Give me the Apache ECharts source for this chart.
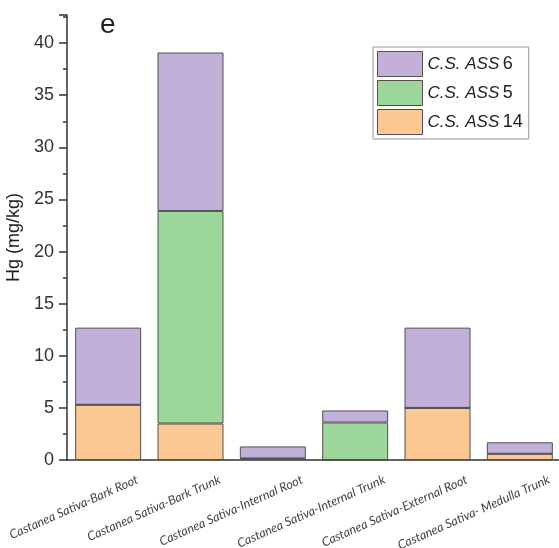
<!DOCTYPE html>
<html>
<head>
<meta charset="utf-8">
<script src="https://cdn.jsdelivr.net/npm/echarts@6/dist/echarts.min.js"></script>
<style>html,body{margin:0;padding:0;background:#fff;}#c{width:559px;height:548px;}</style>
</head>
<body>
<div id="c"></div>
<script>
var categories = ['Castanea Sativa-Bark Root','Castanea Sativa-Bark Trunk','Castanea Sativa-Internal Root','Castanea Sativa-Internal Trunk','Castanea Sativa-External Root','Castanea Sativa- Medulla Trunk'];
var ass14 = [5.3, 3.5, 0.1, 0, 5.0, 0.6];
var ass5 = [0, 20.4, 0.05, 3.6, 0, 0];
var ass6 = [7.4, 15.2, 1.15, 1.15, 7.7, 1.1];
var seriesNames = ['C.S. ASS 6', 'C.S. ASS 5', 'C.S. ASS 14'];

var chart = echarts.init(document.getElementById('c'));
var border = {borderColor: '#505050', borderWidth: 1};
function mk(name, data, color) {
  return {name: name, type: 'bar', stack: 'a', data: data, barWidth: 66,
    itemStyle: Object.assign({color: color}, border)};
}
chart.setOption({
  animation: false,
  grid: {left: 67, top: 15, width: 494, bottom: 88, containLabel: false, outerBoundsMode: 'none'},
  title: {text: 'e', left: 95, top: 6, textStyle: {fontSize: 28, fontWeight: 'normal', color: '#222', fontFamily: 'Liberation Sans'}},
  legend: {
    orient: 'vertical', left: 373, top: 47, data: seriesNames, icon: 'rect',
    itemWidth: 45, itemHeight: 25, itemGap: 3,
    borderColor: '#999', borderWidth: 1, padding: [4, 6, 4, 4],
    itemStyle: {borderColor: '#505050', borderWidth: 1},
    formatter: function (n) { var p = n.split(' '); return '{i|' + p[0] + ' ' + p[1] + '} {n|' + p[2] + '}'; },
    textStyle: {rich: {
      i: {fontStyle: 'italic', fontSize: 17, color: '#222', fontFamily: 'Liberation Sans'},
      n: {fontSize: 18, color: '#222', fontFamily: 'Liberation Sans'}
    }}
  },
  xAxis: [{
    type: 'category', data: categories,
    axisLine: {lineStyle: {color: '#333', width: 1.5}},
    axisTick: {alignWithLabel: true, length: 6, lineStyle: {color: '#333', width: 1.5}},
    axisLabel: {rotate: 24, fontSize: 12.5, fontStyle: 'italic', color: '#444', margin: 32, interval: 0,
      fontFamily: 'Lato', padding: [0, -32, 0, 0]}
  }, {
    type: 'category', data: categories, position: 'bottom',
    axisLine: {show: false},
    axisTick: {length: 3, lineStyle: {color: '#333', width: 1.5}},
    axisLabel: {show: false}
  }],
  yAxis: {
    type: 'value', min: 0, max: 42.7, interval: 5,
    name: 'Hg (mg/kg)', nameLocation: 'middle', nameGap: 40,
    nameTextStyle: {fontSize: 18, color: '#222', fontFamily: 'Liberation Sans'},
    axisLine: {show: true, lineStyle: {color: '#333', width: 1.5}},
    axisTick: {show: true, length: 8, lineStyle: {color: '#333', width: 1.5}},
    minorTick: {show: true, splitNumber: 2, length: 4, lineStyle: {color: '#333', width: 1.5}},
    axisLabel: {fontSize: 18, color: '#333', margin: 13, showMaxLabel: false, fontFamily: 'Liberation Sans'},
    splitLine: {show: false}
  },
  series: [
    mk('C.S. ASS 14', ass14, '#fbc792'),
    mk('C.S. ASS 5', ass5, '#9dd69b'),
    mk('C.S. ASS 6', ass6, '#c1b1d8')
  ]
});
</script>
</body>
</html>
